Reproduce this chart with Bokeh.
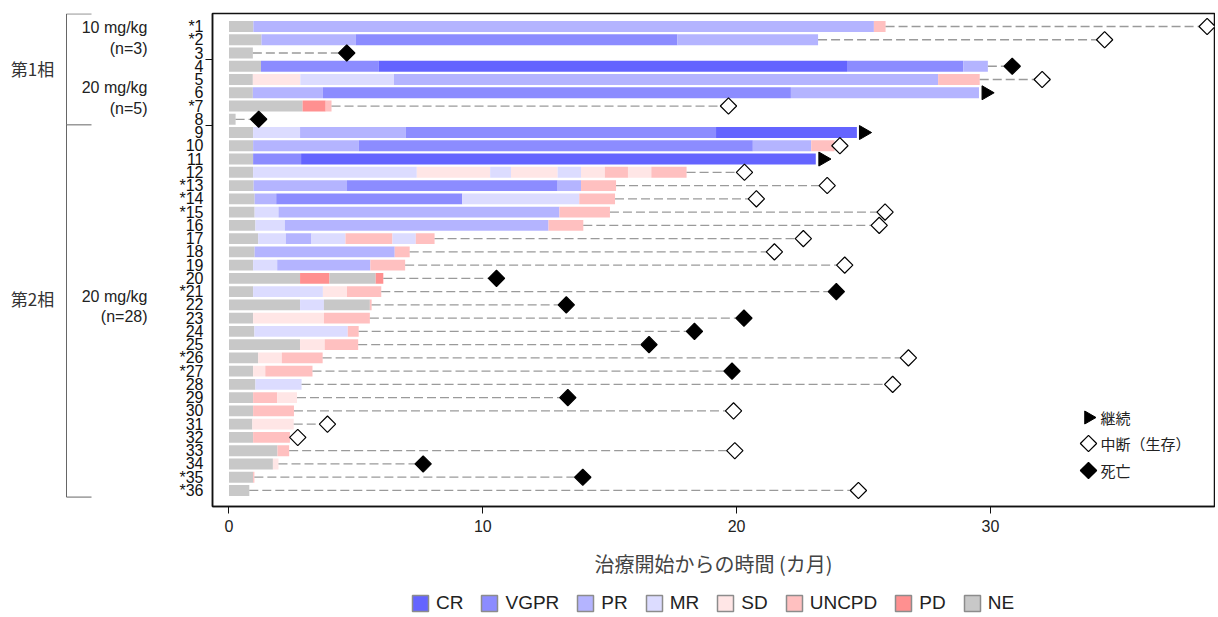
import numpy as np
from bokeh.plotting import figure
from bokeh.models import ColumnDataSource, Range1d, FixedTicker, Legend, LegendItem
from bokeh.layouts import row, column
from bokeh.embed import file_html
from bokeh.resources import INLINE
from bokeh.core.properties import value

# ---------------- data ----------------
statuses = ["CR", "VGPR", "PR", "MR", "SD", "UNCPD", "PD", "NE"]
status_colors = ["#6464FF", "#8C8CFF", "#B4B4FF", "#DCDCFF", "#FFE6E6", "#FFC0C0", "#FF9090", "#C8C8C8"]

patient_labels = ["*1", "*2", "3", "4", "5", "6", "*7", "8", "9", "10", "11", "12",
                  "*13", "*14", "*15", "16", "17", "18", "19", "20", "*21", "22", "23", "24",
                  "25", "*26", "*27", "28", "29", "30", "31", "32", "33", "34", "*35", "*36"]

# response segments: patient row, response, end time (months); each starts where the previous ended
seg_row = [1, 1, 1,
           2, 2, 2, 2,
           3,
           4, 4, 4, 4, 4,
           5, 5, 5, 5, 5,
           6, 6, 6, 6,
           7, 7, 7,
           8,
           9, 9, 9, 9, 9,
           10, 10, 10, 10, 10,
           11, 11, 11,
           12, 12, 12, 12, 12, 12, 12, 12, 12, 12,
           13, 13, 13, 13, 13,
           14, 14, 14, 14, 14,
           15, 15, 15, 15,
           16, 16, 16, 16,
           17, 17, 17, 17, 17, 17, 17,
           18, 18, 18,
           19, 19, 19, 19,
           20, 20, 20, 20,
           21, 21, 21, 21,
           22, 22, 22, 22,
           23, 23, 23,
           24, 24, 24,
           25, 25, 25,
           26, 26, 26,
           27, 27, 27,
           28, 28,
           29, 29, 29,
           30, 30,
           31, 31,
           32, 32,
           33, 33,
           34, 34,
           35, 35,
           36]
seg_resp = ["NE", "PR", "UNCPD",
            "NE", "PR", "VGPR", "PR",
            "NE",
            "NE", "VGPR", "CR", "VGPR", "PR",
            "NE", "SD", "MR", "PR", "UNCPD",
            "NE", "PR", "VGPR", "PR",
            "NE", "PD", "UNCPD",
            "NE",
            "NE", "MR", "PR", "VGPR", "CR",
            "NE", "PR", "VGPR", "PR", "UNCPD",
            "NE", "VGPR", "CR",
            "NE", "MR", "SD", "MR", "SD", "MR", "SD", "UNCPD", "SD", "UNCPD",
            "NE", "PR", "VGPR", "PR", "UNCPD",
            "NE", "PR", "VGPR", "MR", "UNCPD",
            "NE", "MR", "PR", "UNCPD",
            "NE", "MR", "PR", "UNCPD",
            "NE", "MR", "PR", "MR", "UNCPD", "MR", "UNCPD",
            "NE", "PR", "UNCPD",
            "NE", "MR", "PR", "UNCPD",
            "NE", "PD", "NE", "PD",
            "NE", "MR", "SD", "UNCPD",
            "NE", "MR", "NE", "UNCPD",
            "NE", "SD", "UNCPD",
            "NE", "MR", "UNCPD",
            "NE", "SD", "UNCPD",
            "NE", "SD", "UNCPD",
            "NE", "SD", "UNCPD",
            "NE", "MR",
            "NE", "UNCPD", "SD",
            "NE", "UNCPD",
            "NE", "SD",
            "NE", "UNCPD",
            "NE", "UNCPD",
            "NE", "SD",
            "NE", "UNCPD",
            "NE"]
seg_end = [0.96, 25.41, 25.87,
           1.28, 4.99, 17.67, 23.21,
           0.94,
           1.26, 5.89, 24.35, 28.93, 29.90,
           0.94, 2.81, 6.50, 27.94, 29.58,
           0.94, 3.70, 22.14, 29.55,
           2.90, 3.81, 4.04,
           0.26,
           0.95, 2.80, 6.96, 19.19, 24.74,
           0.95, 5.11, 20.64, 22.94, 23.86,
           0.95, 2.84, 23.12,
           0.95, 7.40, 10.29, 11.11, 12.95, 13.87, 14.81, 15.72, 16.64, 18.03,
           0.97, 4.65, 12.95, 13.87, 15.25,
           1.01, 1.86, 9.19, 13.80, 15.21,
           1.01, 1.95, 13.02, 15.01,
           1.04, 2.20, 12.59, 13.96,
           1.15, 2.24, 3.25, 4.59, 6.44, 7.36, 8.10,
           1.01, 6.53, 7.12,
           0.95, 1.90, 5.57, 6.94,
           2.80, 3.96, 5.78, 6.08,
           0.95, 3.70, 4.65, 6.00,
           2.80, 3.74, 5.55, 5.62,
           0.95, 3.74, 5.55,
           1.00, 4.68, 5.11,
           2.80, 3.77, 5.09,
           1.15, 2.08, 3.69,
           0.95, 1.43, 3.29,
           1.04, 2.86,
           0.95, 1.90, 2.68,
           0.95, 2.56,
           0.92, 2.55,
           0.95, 2.40,
           1.91, 2.37,
           1.73, 1.95,
           0.95, 1.00,
           0.80]

# end-of-follow-up markers per patient
end_type = ["中断", "中断", "死亡", "死亡", "中断", "継続", "中断", "死亡", "継続", "中断", "継続", "中断",
            "中断", "中断", "中断", "中断", "中断", "中断", "中断", "死亡", "死亡", "死亡", "死亡", "死亡",
            "死亡", "中断", "死亡", "中断", "死亡", "中断", "中断", "中断", "中断", "死亡", "死亡", "中断"]
end_time = [38.54, 34.50, 4.64, 30.86, 32.04, 29.83, 19.68, 1.17, 25.00, 24.07, 23.40, 20.31,
            23.57, 20.78, 25.85, 25.62, 22.63, 21.49, 24.26, 10.54, 23.93, 13.29, 20.29, 18.34,
            16.55, 26.77, 19.82, 26.15, 13.35, 19.88, 3.88, 2.71, 19.93, 7.65, 13.94, 24.80]

marker_kinds = ["継続", "中断", "死亡"]
marker_names = ["継続", "中断（生存）", "死亡"]

x_ticks = [0, 10, 20, 30]
x_title = "治療開始からの時間 (カ月)"

# left-hand group annotation
phase_labels = ["第1相", "第2相"]
phase_label_y = [4.2, 21.5]
phase_bounds = [0.05, 8.42, 36.5]
dose_labels = ["10 mg/kg", "(n=3)", "20 mg/kg", "(n=5)", "20 mg/kg", "(n=28)"]
dose_label_y = [1.08, 2.66, 5.6, 7.18, 21.36, 22.87]
axis_group_ticks = [3.5, 8.5]

# ---------------- derived ----------------
color_of = dict(zip(statuses, status_colors))
seg_start = []
prev_row, prev_end = None, 0.0
for r, e in zip(seg_row, seg_end):
    s = prev_end if r == prev_row else 0.0
    seg_start.append(s)
    prev_row, prev_end = r, e

bar_src = ColumnDataSource(dict(row=seg_row, start=seg_start, end=seg_end,
                                color=[color_of[s] for s in seg_resp]))

rows = list(range(1, len(patient_labels) + 1))
bar_total = {}
for r, e in zip(seg_row, seg_end):
    bar_total[r] = max(bar_total.get(r, 0), e)

dash_x0, dash_x1, dash_y = [], [], []
for r, t, k in zip(rows, end_time, end_type):
    if k != "継続":
        dash_x0.append(bar_total[r]); dash_x1.append(t); dash_y.append(r)

LATIN = "Liberation Sans"
CJK = "Noto Sans CJK JP"

# ---------------- layout geometry (pixels) ----------------
LEFT_W = 173
MAIN_W = 1042
BORDER_L, BORDER_R, BORDER_T, BORDER_B = 39, 1, 13, 80
FRAME_H = 493
H_MAIN = BORDER_T + FRAME_H + BORDER_B
H_TOTAL = 616
X_START, X_END = -0.65, 38.83
Y_BOT, Y_TOP = 37.21, 0.02
frame_w = MAIN_W - BORDER_L - BORDER_R

def px_to_x(px):  # page pixel -> data x in main figure
    return X_START + (px - (LEFT_W + BORDER_L)) * (X_END - X_START) / frame_w

def py_to_y(py):  # page pixel -> data y in main figure
    return Y_TOP + (py - BORDER_T) * (Y_BOT - Y_TOP) / FRAME_H

# ---------------- main figure ----------------
p = figure(width=MAIN_W, height=H_MAIN, x_range=Range1d(X_START, X_END), y_range=Range1d(Y_BOT, Y_TOP),
           output_backend="svg", toolbar_location=None,
           min_border_left=BORDER_L, min_border_right=BORDER_R, min_border_top=BORDER_T,
           min_border_bottom=BORDER_B)
p.xgrid.visible = False
p.ygrid.visible = False
p.outline_line_color = "#111111"
p.outline_line_width = 1.5

p.hbar(y="row", left="start", right="end", height=0.82, fill_color="color", line_color=None, source=bar_src)
p.segment(x0=dash_x0, y0=dash_y, x1=dash_x1, y1=dash_y, line_color="#9a9a9a", line_width=1.3, line_dash="9 4")

marker_style = {
    "継続": dict(marker="triangle", angle=-np.pi / 2, size=14, fill_color="black", line_color="black"),
    "中断": dict(marker="square", angle=np.pi / 4, size=11.5, fill_color="white", line_color="black", line_width=1.2),
    "死亡": dict(marker="square", angle=np.pi / 4, size=11.5, fill_color="black", line_color="black", line_width=1.2),
}
for kind in marker_kinds:
    xs = [t for t, k in zip(end_time, end_type) if k == kind]
    ys = [r for r, k in zip(rows, end_type) if k == kind]
    p.scatter(xs, ys, **marker_style[kind])

# marker key (drawn in the plot, bottom right)
key_px_x, key_text_px_x = 1088, 1100
key_px_y = [417, 443, 470]
key_y = [py_to_y(v) for v in key_px_y]
for kind, ky in zip(marker_kinds, key_y):
    st = dict(marker_style[kind])
    if kind == "継続":
        st["size"] = 13
    p.scatter([px_to_x(key_px_x)], [ky], **st)
p.text(x=[px_to_x(key_text_px_x)] * 3, y=key_y, text=marker_names, text_align="left", text_baseline="middle",
       text_font=value(CJK), text_font_size="15px", text_color="#222222")

xa = p.xaxis[0]
xa.ticker = FixedTicker(ticks=x_ticks)
xa.major_tick_out = 7
xa.major_tick_in = 0
xa.minor_tick_out = 0
xa.major_label_standoff = 6
xa.major_label_text_font = LATIN
xa.major_label_text_font_size = "16px"
xa.major_label_text_color = "#222222"
xa.axis_line_color = "#111111"
xa.axis_line_width = 1.5
xa.major_tick_line_color = "#111111"
xa.axis_label = x_title
xa.axis_label_text_font = CJK
xa.axis_label_text_font_size = "20px"
xa.axis_label_text_font_style = "normal"
xa.axis_label_text_color = "#444444"
xa.axis_label_standoff = 14

ya = p.yaxis[0]
ya.ticker = FixedTicker(ticks=rows, minor_ticks=axis_group_ticks)
ya.major_label_overrides = {r: lab for r, lab in zip(rows, patient_labels)}
ya.major_tick_out = 0
ya.major_tick_in = 0
ya.minor_tick_out = 7
ya.minor_tick_in = 0
ya.minor_tick_line_color = "#111111"
ya.major_label_standoff = 2
ya.major_label_text_font = LATIN
ya.major_label_text_font_size = "16px"
ya.major_label_text_color = "#111111"
ya.axis_line_color = "#111111"
ya.axis_line_width = 1.5

# ---------------- left annotation figure ----------------
lf = figure(width=LEFT_W, height=H_MAIN, x_range=Range1d(0, LEFT_W), y_range=p.y_range,
            output_backend="svg", toolbar_location=None, x_axis_type=None, y_axis_type=None,
            min_border_left=0, min_border_right=0, min_border_top=BORDER_T, min_border_bottom=BORDER_B,
            outline_line_color=None)
lf.xgrid.visible = False
lf.ygrid.visible = False
bx, stub = 66, 91
lf.segment(x0=[bx] * 2, y0=phase_bounds[:-1], x1=[bx] * 2, y1=phase_bounds[1:], line_color="#666666", line_width=1)
lf.segment(x0=[bx] * 3, y0=phase_bounds, x1=[stub] * 3, y1=phase_bounds, line_color="#666666", line_width=1)
lf.text(x=[32] * 2, y=phase_label_y, text=phase_labels, text_align="center", text_baseline="middle",
        text_font=value(CJK), text_font_size="17px", text_color="#333333")
lf.text(x=[147] * len(dose_labels), y=dose_label_y, text=dose_labels, text_align="right", text_baseline="middle",
        text_font=value(LATIN), text_font_size="16px", text_color="#222222")

# ---------------- bottom legend figure ----------------
lg = figure(width=LEFT_W + MAIN_W, height=H_TOTAL - H_MAIN, x_range=Range1d(0, 1), y_range=Range1d(0, 1),
            output_backend="svg", toolbar_location=None, x_axis_type=None, y_axis_type=None,
            min_border=0, outline_line_color=None)
lg.xgrid.visible = False
lg.ygrid.visible = False
rs = [lg.quad(left=[5], right=[6], top=[5], bottom=[4], fill_color=c, line_color="#8c8c8c", line_width=1.5)
      for c in status_colors]
bleg = Legend(items=[LegendItem(label=s, renderers=[r]) for s, r in zip(statuses, rs)],
              orientation="horizontal", location=(410, 2), padding=0, margin=0, spacing=16,
              glyph_width=20, glyph_height=20, label_height=20, label_standoff=6,
              border_line_color=None, background_fill_alpha=0,
              label_text_font=LATIN, label_text_font_size="19px", label_text_color="#222222")
lg.add_layout(bleg)

layout = column(row(lf, p), lg)
open("out.html", "w").write(file_html(layout, INLINE))
